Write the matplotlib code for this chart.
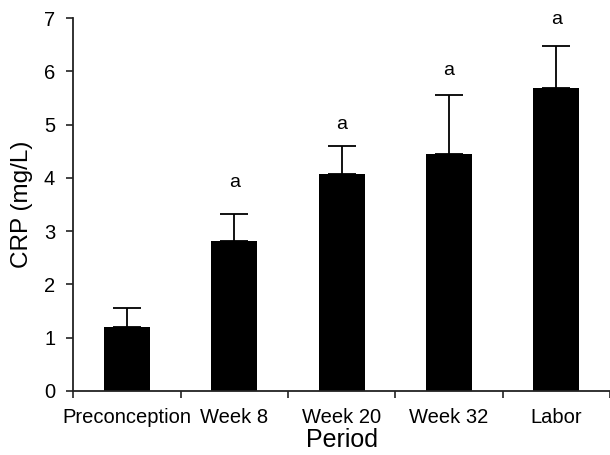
import matplotlib
matplotlib.use("Agg")
from matplotlib import pyplot as plt
import numpy as np

plt.rcParams['font.family'] = ['Liberation Sans', 'DejaVu Sans']

periods = ["Preconception", "Week 8", "Week 20", "Week 32", "Labor"]
crp_mean = [1.20, 2.81, 4.08, 4.45, 5.69]
crp_err = [0.35, 0.52, 0.51, 1.10, 0.78]
sig_labels = ["", "a", "a", "a", "a"]
sig_pad = [10, 16, 9.5, 11.5, 13]  # label offset above error bar, points

fig = plt.figure(figsize=(6.1, 4.55), dpi=100)
ax = fig.add_axes([0.12, 0.141, 0.88, 0.819])

x = np.arange(len(periods))
ax.bar(x, crp_mean, width=0.43, color="black", zorder=2)
ax.errorbar(x, crp_mean, yerr=[np.zeros(len(x)), crp_err], fmt="none",
            ecolor="black", elinewidth=1.3, capsize=10, capthick=1.3, zorder=1)

for xi, m, e, s, p in zip(x, crp_mean, crp_err, sig_labels, sig_pad):
    if s:
        ax.annotate(s, (xi, m + e), xytext=(0, p), textcoords="offset points",
                    ha="center", va="bottom", fontsize=14)

ax.set_xlim(-0.5, 4.5)
ax.set_ylim(0, 7)
ax.set_yticks(range(8))
ax.set_xticks(x)
ax.set_xticklabels(periods)
ax.set_xticks(np.arange(-0.5, 5, 1.0), minor=True)
ax.tick_params(axis="x", which="major", length=0, labelsize=14.5, pad=12)
ax.tick_params(axis="x", which="minor", length=5, width=1.2, color="#222222")
ax.tick_params(axis="y", length=5, width=1.2, color="#222222", labelsize=14.5, pad=8)

for side in ["top", "right"]:
    ax.spines[side].set_visible(False)
for side in ["left", "bottom"]:
    ax.spines[side].set_linewidth(1.3)
    ax.spines[side].set_color("#222222")

ax.set_xlabel("Period", fontsize=18, labelpad=1)
ax.set_ylabel("CRP (mg/L)", fontsize=17.5, labelpad=8)

plt.savefig("out.png", dpi=100)
